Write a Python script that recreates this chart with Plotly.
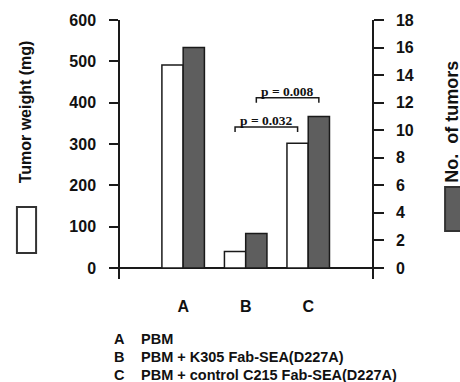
import plotly.graph_objects as go

categories = ["A", "B", "C"]
tumor_weight = [491, 40, 302]          # mg, left axis (white bars)
tumor_count = [16, 2.5, 11]            # no. of tumors, right axis (dark bars)
left_ticks = [0, 100, 200, 300, 400, 500, 600]
right_ticks = [0, 2, 4, 6, 8, 10, 12, 14, 16, 18]
legend_letters = ["A", "B", "C"]
legend_texts = ["PBM", "PBM + K305 Fab-SEA(D227A)", "PBM + control C215 Fab-SEA(D227A)"]
p_values = ["p = 0.032", "p = 0.008"]

SANS = "Liberation Sans"
SERIF = "Liberation Serif"
DARK = "#5e5e5e"
LINE = "#1a1a1a"

xpos = list(range(len(categories)))
bw = 0.34

fig = go.Figure()
fig.add_trace(go.Bar(x=xpos, y=tumor_weight, width=bw, offset=-bw,
                     marker=dict(color="white", line=dict(color=LINE, width=1.5)),
                     yaxis="y", showlegend=False))
fig.add_trace(go.Bar(x=xpos, y=tumor_count, width=bw, offset=0,
                     marker=dict(color=DARK, line=dict(color=LINE, width=1.5)),
                     yaxis="y2", showlegend=False))

tickfont = dict(family=SANS, size=16, color="#111", weight="bold")

fig.update_layout(
    width=460, height=382,
    margin=dict(l=120, r=88, t=20, b=103),
    paper_bgcolor="white", plot_bgcolor="white",
    barmode="overlay",
    xaxis=dict(range=[-1.01, 3.02], tickvals=xpos, ticktext=categories,
               showline=False, ticks="", showgrid=False, zeroline=False,
               tickfont=tickfont, ticklabelstandoff=16),
    yaxis=dict(range=[-26.6, 600], tickvals=left_ticks, showgrid=False,
               showline=True, linecolor=LINE, linewidth=1.5,
               ticks="outside", ticklen=9, tickwidth=1.5, tickcolor=LINE,
               zeroline=True, zerolinecolor=LINE, zerolinewidth=1.5,
               tickfont=tickfont, ticklabelstandoff=10),
    yaxis2=dict(range=[-0.8, 18], tickvals=right_ticks, overlaying="y", side="right",
                showgrid=False, showline=True, linecolor=LINE, linewidth=1.5,
                ticks="outside", ticklen=10, tickwidth=1.5, tickcolor=LINE,
                zeroline=False, tickfont=tickfont, ticklabelstandoff=9),
)

# significance brackets
brackets = [
    dict(x0=1 - bw / 2, x1=2 - bw / 2, y=341, drop=12, yref="y", text=p_values[0]),
    dict(x0=1 + bw / 2, x1=2 + bw / 2, y=12.35, drop=0.35, yref="y2", text=p_values[1]),
]
for b in brackets:
    path = (f"M {b['x0']},{b['y'] - b['drop']} L {b['x0']},{b['y']} "
            f"L {b['x1']},{b['y']} L {b['x1']},{b['y'] - b['drop']}")
    fig.add_shape(type="path", path=path, xref="x", yref=b["yref"],
                  line=dict(color=LINE, width=1.5))
    fig.add_annotation(x=(b["x0"] + b["x1"]) / 2, y=b["y"], xref="x", yref=b["yref"],
                       text=b["text"], showarrow=False, yanchor="bottom", yshift=-3,
                       font=dict(family=SERIF, size=13.5, color="#111", weight="bold"))

# axis titles
fig.add_annotation(x=-0.413, y=0.645, xref="paper", yref="paper", text="Tumor weight (mg)",
                   textangle=-90, showarrow=False,
                   font=dict(family=SANS, size=16, color="#111", weight="bold"))
fig.add_annotation(x=1.365, y=0.607, xref="paper", yref="paper", text="No.  of tumors",
                   textangle=-90, showarrow=False,
                   font=dict(family=SANS, size=18, color="#111", weight="bold"))

# legend swatches
fig.add_shape(type="rect", xref="paper", yref="paper", x0=-0.409, x1=-0.333, y0=0.100, y1=0.278,
              line=dict(color="#333", width=2), fillcolor="white")
fig.add_shape(type="rect", xref="paper", yref="paper", x0=1.29, x1=1.41, y0=0.185, y1=0.355,
              line=dict(color="#333", width=2), fillcolor=DARK)

# bottom key
keyfont = dict(family=SANS, size=14.5, color="#111", weight="bold")
key_y = [-0.232, -0.301, -0.371]
for letter, txt, ky in zip(legend_letters, legend_texts, key_y):
    fig.add_annotation(x=-0.032, y=ky, xref="paper", yref="paper", xanchor="left", yanchor="middle",
                       text=letter, showarrow=False, font=keyfont)
    fig.add_annotation(x=0.075, y=ky, xref="paper", yref="paper", xanchor="left", yanchor="middle",
                       text=txt, showarrow=False, font=keyfont)

fig.write_html("out.html")
